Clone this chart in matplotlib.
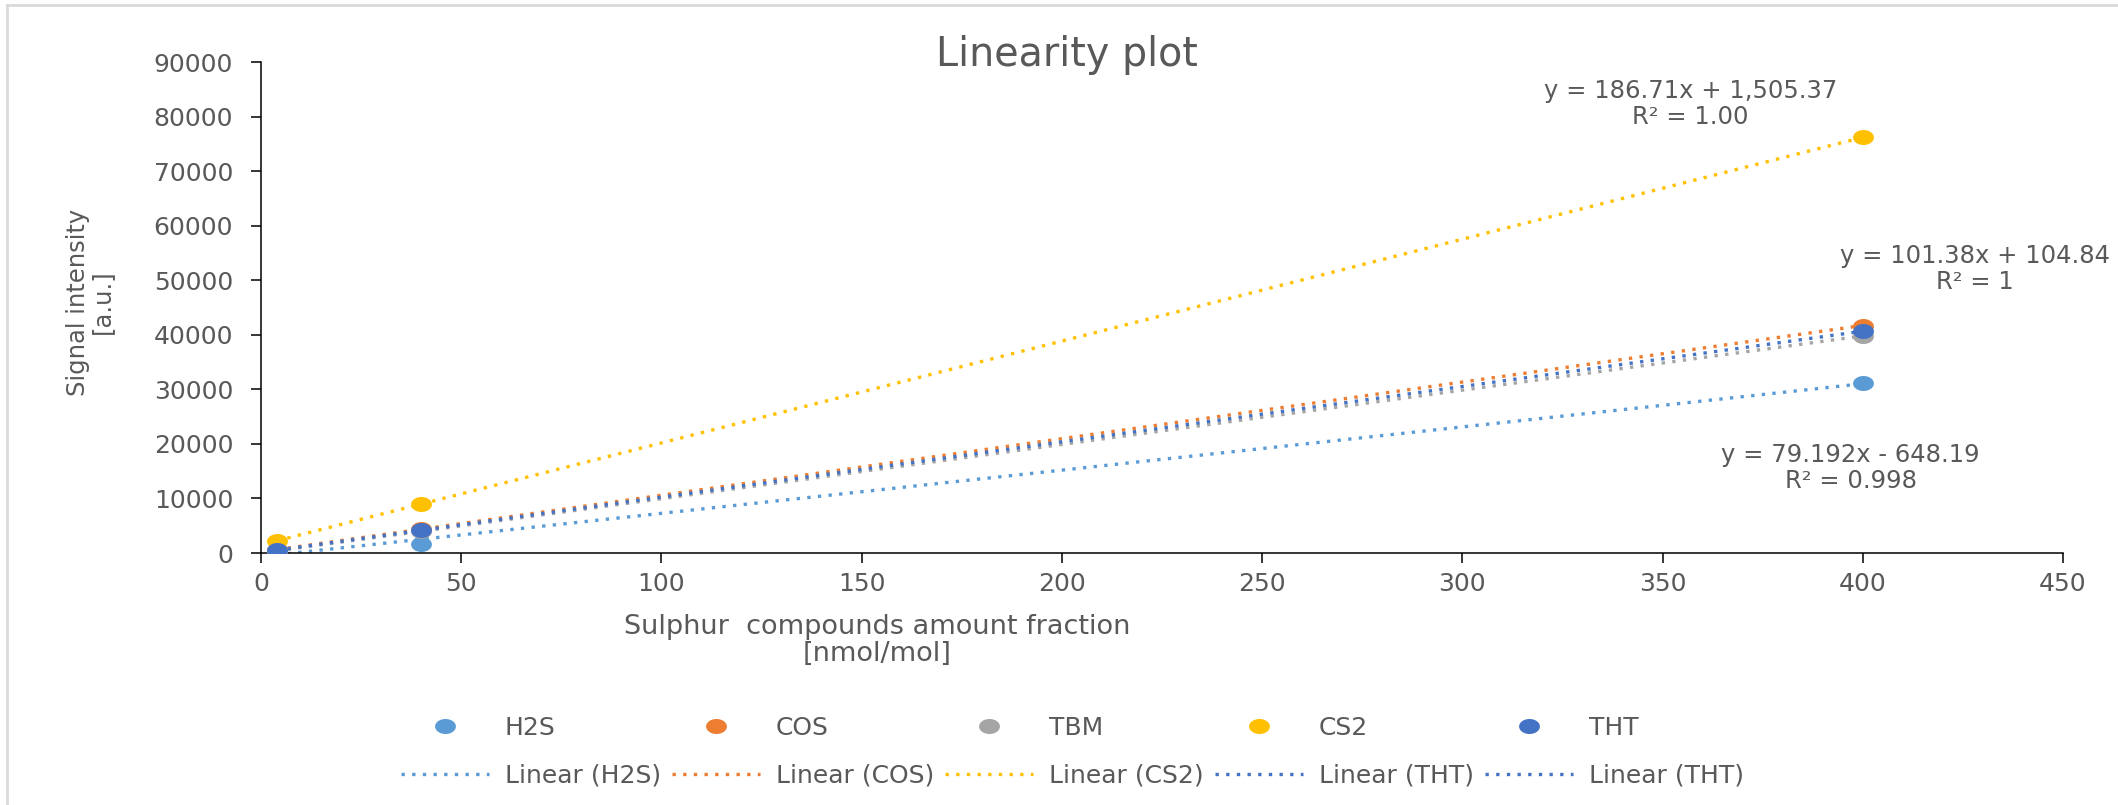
import numpy as np
import matplotlib.pyplot as plt
from matplotlib.path import Path
from matplotlib.lines import Line2D

# Amount fraction of each standard [nmol/mol]
amount = [4, 40, 400]

# Signal intensity per compound [a.u.]
h2s = [383, 1734, 31100]
cos = [540, 4450, 41700]
tbm = [430, 3950, 39800]
cs2 = [2250, 8970, 76190]
tht = [510, 4160, 40660]

names = ['H2S', 'COS', 'TBM', 'CS2', 'THT']
colors = ['#5B9BD5', '#ED7D31', '#A5A5A5', '#FFC000', '#4472C4']

# Trendline equations as printed next to the fits
eq_cs2 = 'y = 186.71x + 1,505.37\nR² = 1.00'
eq_tht = 'y = 101.38x + 104.84\nR² = 1'
eq_h2s = 'y = 79.192x - 648.19\nR² = 0.998'

W, H = 2118, 805
grey = '#595959'

# slightly wide ellipse used as point marker
t = np.linspace(0, 2 * np.pi, 60)
ellipse = Path(np.column_stack([np.cos(t), 0.72 * np.sin(t)]), closed=True)

fig = plt.figure(figsize=(W / 100, H / 100), dpi=100)
ax = fig.add_axes([261 / W, 1 - 553 / H, 1802 / W, 491 / H])

series = [h2s, cos, tbm, cs2, tht]
dotted = (0, (1, 2.2))

# linear trendlines (least squares over the measured range)
for ys, c in zip(series, colors):
    k, b = np.polyfit(amount, ys, 1)
    xs = np.array([amount[0], amount[-1]])
    ax.plot(xs, k * xs + b, color=c, lw=2.4, linestyle=dotted, zorder=2)

for ys, c in zip(series, colors):
    ax.plot(amount, ys, linestyle='none', marker=ellipse, markersize=15,
            color=c, markeredgewidth=0, zorder=3)

ax.set_xlim(0, 450)
ax.set_ylim(0, 90000)
ax.set_xticks(np.arange(0, 451, 50))
ax.set_yticks(np.arange(0, 90001, 10000))
for s in ['top', 'right']:
    ax.spines[s].set_visible(False)
for s in ['left', 'bottom']:
    ax.spines[s].set_color('black')
    ax.spines[s].set_linewidth(1.1)
ax.tick_params(axis='both', direction='out', length=7, width=1.1,
               labelsize=18, labelcolor=grey)
ax.tick_params(axis='y', pad=13)
ax.tick_params(axis='x', pad=7)

# fit equations
eq_style = dict(fontsize=17.5, color=grey, ha='center', va='center', linespacing=1.1)
ax.text(357, 82300, eq_cs2, **eq_style)
ax.text(428, 52000, eq_tht, **eq_style)
ax.text(397, 15600, eq_h2s, **eq_style)

fig.text(1067 / W, 1 - 55 / H, 'Linearity plot', fontsize=28.5, color=grey,
         ha='center', va='center')
fig.text(877 / W, 1 - 640 / H, 'Sulphur  compounds amount fraction\n[nmol/mol]',
         fontsize=19.5, color=grey, ha='center', va='center', linespacing=1.05)
fig.text(90 / W, 1 - 302 / H, 'Signal intensity\n[a.u.]', fontsize=17.5, color=grey,
         rotation=90, ha='center', va='center', linespacing=0.95)

# legend: point series on the first row, trendlines on the second
pts = [Line2D([], [], linestyle='none', marker=ellipse, markersize=15, color=c,
              markeredgewidth=0) for c in colors]
trend_cols = [colors[0], colors[1], colors[3], colors[4], colors[4]]
trend_lbls = ['Linear (H2S)', 'Linear (COS)', 'Linear (CS2)', 'Linear (THT)', 'Linear (THT)']
lns = [Line2D([], [], color=c, lw=2.4, linestyle=dotted) for c in trend_cols]
handles, labels = [], []
for i in range(5):
    handles += [pts[i], lns[i]]
    labels += [names[i], trend_lbls[i]]
leg = fig.legend(handles, labels, ncol=5, loc='upper left',
                 bbox_to_anchor=(401 / W, 1 - 716 / H), frameon=False,
                 fontsize=18, handlelength=3.5, handletextpad=0.65,
                 columnspacing=0.45, labelspacing=0.95, borderpad=0,
                 borderaxespad=0)
for txt in leg.get_texts():
    txt.set_color(grey)

# chart area border
fig.add_artist(Line2D([7 / W, 7 / W], [0, 1 - 5 / H], color='#D9D9D9', lw=2))
fig.add_artist(Line2D([7 / W, 1], [1 - 5 / H, 1 - 5 / H], color='#D9D9D9', lw=2))

fig.savefig('out.png', dpi=100)
